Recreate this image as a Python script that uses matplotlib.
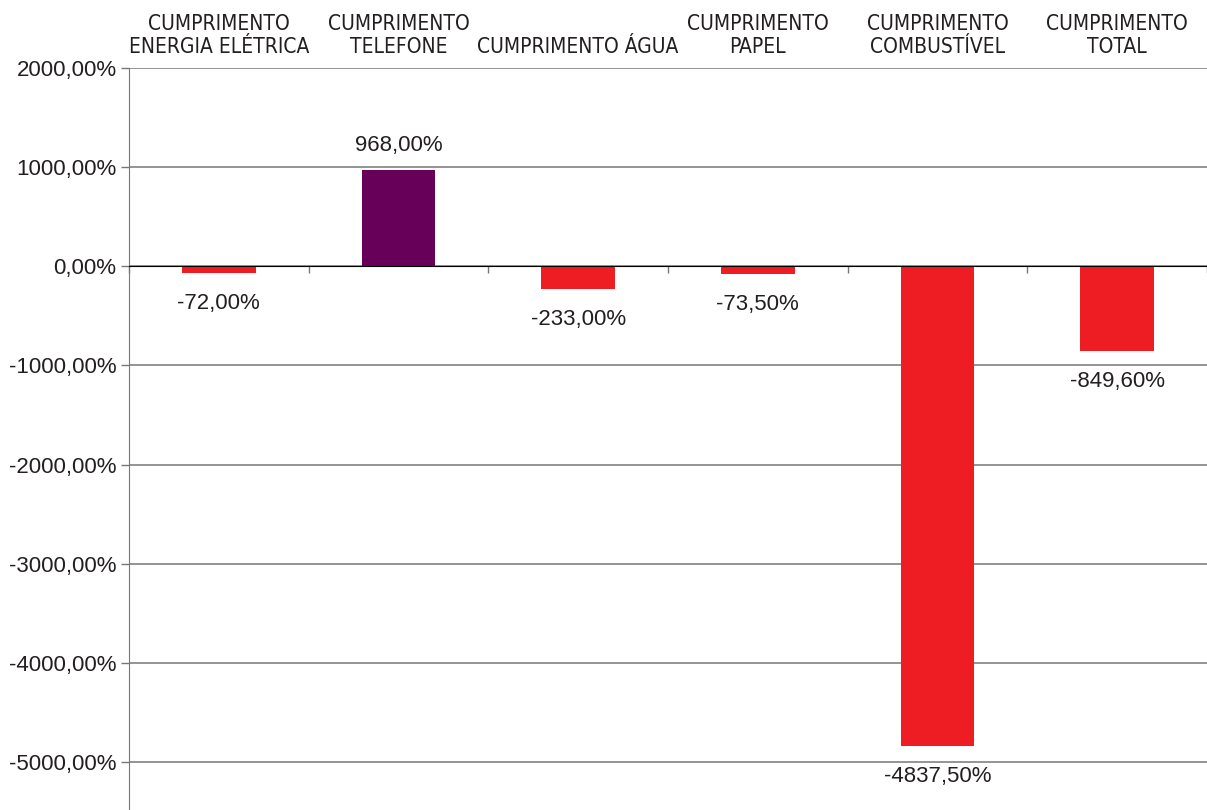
import matplotlib.pyplot as plt
from matplotlib import font_manager
import numpy as np

categories = ['CUMPRIMENTO\nENERGIA ELÉTRICA', 'CUMPRIMENTO\nTELEFONE', 'CUMPRIMENTO ÁGUA',
              'CUMPRIMENTO\nPAPEL', 'CUMPRIMENTO\nCOMBUSTÍVEL', 'CUMPRIMENTO\nTOTAL']
values = [-72.00, 968.00, -233.00, -73.50, -4837.50, -849.60]
yticks = [2000, 1000, 0, -1000, -2000, -3000, -4000, -5000]

def fmt(v):
    return ('%.2f' % v).replace('.', ',') + '%'

def narrow_font(size):
    # look for a condensed face among the installed fonts
    files = [f.fname for f in font_manager.fontManager.ttflist]
    for key in ['LiberationSansNarrow-Regular', 'DejaVuSansCondensed.ttf']:
        for fn in files:
            if key in fn:
                return font_manager.FontProperties(fname=fn, size=size)
    for fn in files:
        if ('Narrow' in fn or 'Condensed' in fn) and 'Bold' not in fn and 'Oblique' not in fn \
                and 'Italic' not in fn:
            return font_manager.FontProperties(fname=fn, size=size)
    return font_manager.FontProperties(family='DejaVu Sans', size=size - 2)

def main():
    txt = '#231f20'
    fig = plt.figure(figsize=(12.07, 8.10), dpi=100)
    ax = fig.add_axes([129/1207, 0, 1 - 129/1207, 1 - 68/810])
    x = np.arange(len(values))
    colors = ['#660058' if v > 0 else '#ee1d24' for v in values]
    ax.bar(x, values, width=0.41, color=colors, zorder=3)
    ax.set_xlim(-0.5, len(values) - 0.5)
    ax.set_ylim(-5484, 2000)

    ax.set_yticks(yticks)
    ax.set_yticklabels([fmt(v) for v in yticks], fontsize=16, color=txt,
                       family=['Liberation Sans', 'DejaVu Sans'])
    ax.tick_params(axis='y', length=6, width=1, color='#777777', pad=3)
    ax.yaxis.grid(True, color='#777777', linewidth=1.1, zorder=0)

    ax.spines['bottom'].set_position(('data', 0))
    ax.spines['bottom'].set_color('black')
    ax.spines['bottom'].set_zorder(4)
    ax.spines['left'].set_color('#777777')
    ax.spines['top'].set_visible(False)
    ax.spines['right'].set_visible(False)
    ax.set_xticks(np.arange(len(values) + 1) - 0.5)
    ax.set_xticklabels([])
    ax.tick_params(axis='x', length=5, width=1, color='#777777', direction='out')

    fp = narrow_font(15)
    for i, (c, v) in enumerate(zip(categories, values)):
        ax.annotate(c, xy=(i, 1), xycoords=('data', 'axes fraction'),
                    xytext=(0, 8), textcoords='offset points',
                    ha='center', va='bottom', color=txt, fontproperties=fp,
                    linespacing=1.2)
        off = 18 if v > 0 else -22
        ax.annotate(fmt(v), xy=(i, v), xytext=(0, off), textcoords='offset points',
                    ha='center', va='center', fontsize=16, color=txt,
                    family=['Liberation Sans', 'DejaVu Sans'])

    fig.savefig('out.png', dpi=100)

if __name__ == '__main__':
    main()
